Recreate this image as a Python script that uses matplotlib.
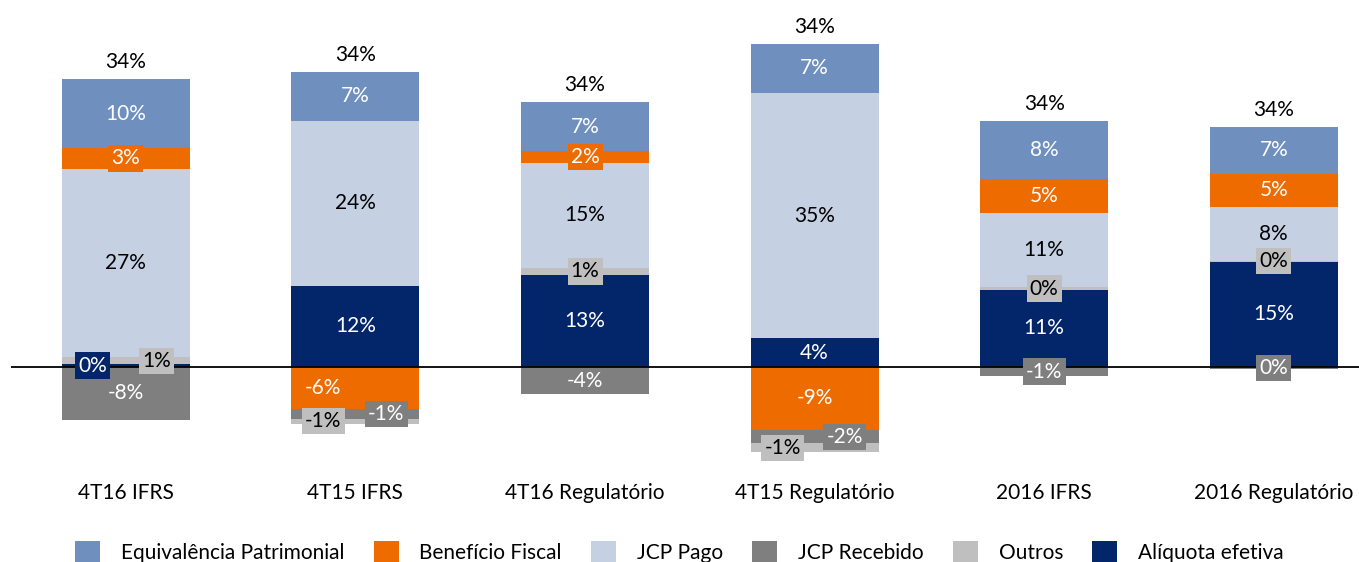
import numpy as np
import matplotlib
matplotlib.use("Agg")
import matplotlib.pyplot as plt
from matplotlib.patches import Patch

plt.rcParams['font.family'] = ['Lato', 'DejaVu Sans']

categories = ['4T16 IFRS', '4T15 IFRS', '4T16 Regulatório', '4T15 Regulatório',
              '2016 IFRS', '2016 Regulatório']

# effective tax rate breakdown, %
equivalencia = [9.8, 6.9, 7.1, 7.1, 8.3, 6.7]
beneficio = [3.0, -6.0, 1.7, -9.0, 4.9, 4.7]
jcp_pago = [26.9, 23.6, 14.9, 35.0, 10.6, 7.7]
jcp_recebido = [-7.5, -1.4, -3.9, -1.9, -1.3, -0.3]
outros = [1.0, -0.7, 1.1, -1.3, 0.4, 0.2]
aliquota = [0.4, 11.6, 13.1, 4.1, 11.0, 15.0]

series = {
    'equivalencia': ('Equivalência Patrimonial', equivalencia, '#6F8FBE', 'white'),
    'beneficio': ('Benefício Fiscal', beneficio, '#EE6B00', 'white'),
    'jcp_pago': ('JCP Pago', jcp_pago, '#C5D0E3', 'black'),
    'jcp_recebido': ('JCP Recebido', jcp_recebido, '#7F7F7F', 'white'),
    'outros': ('Outros', outros, '#BFBFBF', 'black'),
    'aliquota': ('Alíquota efetiva', aliquota, '#03266A', 'white'),
}
pos_order = ['aliquota', 'outros', 'jcp_recebido', 'jcp_pago', 'beneficio', 'equivalencia']
neg_order = ['beneficio', 'jcp_recebido', 'outros', 'aliquota', 'jcp_pago', 'equivalencia']

# sideways nudges of crowded labels (in bar units)
nudge = {('aliquota', 0): -0.145, ('outros', 0): 0.135,
         ('beneficio', 1): -0.14, ('outros', 1): -0.14, ('jcp_recebido', 1): 0.135,
         ('outros', 3): -0.14, ('jcp_recebido', 3): 0.13}


def pct(v):
    r = int(np.floor(abs(v) + 0.5))
    return ('-' if v < 0 and r else '') + f'{r}%'


W, H = 1359, 562
FS = 15
fig = plt.figure(figsize=(W / 100, H / 100), dpi=100)
ax = fig.add_axes([11 / W, 82 / H, 1 - 11 / W, 480 / H])
ppu = 7.0
ax.set_ylim(-(480 - 367) / ppu, 367 / ppu)
ax.set_xlim(-0.5, (W - 11) / 229.6 - 0.5)
width = 0.557

labels = []
for i in range(len(categories)):
    pos_base, neg_base = 0.0, 0.0
    for key in pos_order:
        name, vals, color, tc = series[key]
        v = vals[i]
        if v >= 0:
            ax.bar(i, v, width, bottom=pos_base, color=color, zorder=2)
            labels.append((i, pos_base + v / 2, v, key))
            pos_base += v
    for key in neg_order:
        name, vals, color, tc = series[key]
        v = vals[i]
        if v < 0:
            ax.bar(i, v, width, bottom=neg_base, color=color, zorder=2)
            labels.append((i, neg_base + v / 2, v, key))
            neg_base += v
    total = sum(series[k][1][i] for k in series)
    ax.annotate(pct(total), (i, pos_base), xytext=(0, 5), textcoords='offset points',
                ha='center', va='bottom', fontsize=FS, color='black')

for i, y, v, key in labels:
    name, vals, color, tc = series[key]
    ax.text(i + nudge.get((key, i), 0), y, pct(v), ha='center', va='center',
            fontsize=FS, color=tc, zorder=5,
            bbox=dict(boxstyle='square,pad=0.15', fc=color, ec='none'))

ax.axhline(0, color='black', lw=1.3, zorder=3)

ax.set_xticks(range(len(categories)))
ax.set_xticklabels(categories, fontsize=FS)
ax.tick_params(axis='x', length=0, pad=2)
ax.set_yticks([])
for s in ax.spines.values():
    s.set_visible(False)

handles = [Patch(facecolor=series[k][2], label=series[k][0]) for k in
           ['equivalencia', 'beneficio', 'jcp_pago', 'jcp_recebido', 'outros', 'aliquota']]
fig.legend(handles=handles, loc='lower center', bbox_to_anchor=(0.5, -0.035), ncol=6,
           frameon=False, fontsize=FS, handlelength=1.2, handleheight=1.2,
           handletextpad=1.0, columnspacing=1.4)

fig.savefig('out.png', dpi=100)
